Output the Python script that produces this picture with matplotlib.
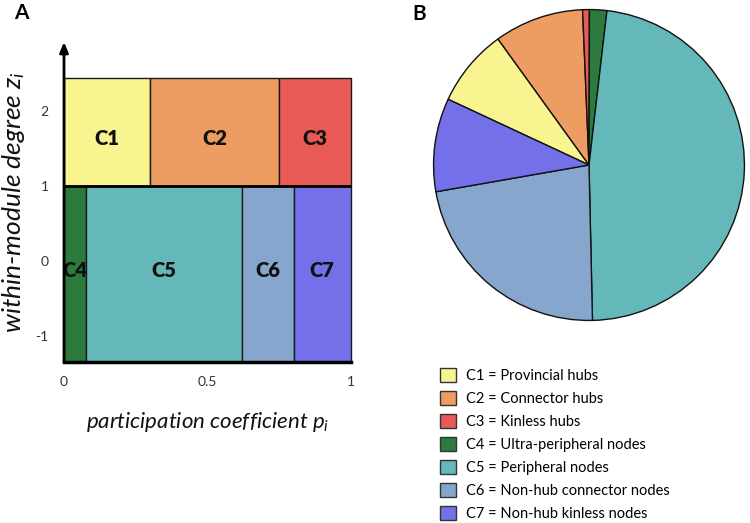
import matplotlib
matplotlib.use("Agg")
import matplotlib.pyplot as plt
from matplotlib.patches import Rectangle, Patch

plt.rcParams['font.family'] = ['Lato', 'DejaVu Sans']
plt.rcParams['mathtext.fontset'] = 'custom'
plt.rcParams['mathtext.it'] = 'Lato:italic'
plt.rcParams['mathtext.rm'] = 'Lato'

# ---- data ----
categories = ['C1', 'C2', 'C3', 'C4', 'C5', 'C6', 'C7']
descriptions = ['Provincial hubs', 'Connector hubs', 'Kinless hubs',
                'Ultra-peripheral nodes', 'Peripheral nodes',
                'Non-hub connector nodes', 'Non-hub kinless nodes']
colors = ['#F8F48F', '#EE9D62', '#E85A55', '#2D7A3E', '#64B8BA', '#86A6CD', '#7370EA']
# region bounds in (p, z) space
p_lo = [0.0, 0.30, 0.75, 0.0, 0.075, 0.62, 0.80]
p_hi = [0.30, 0.75, 1.0, 0.075, 0.62, 0.80, 1.0]
z_lo = [1.0, 1.0, 1.0, -1.34, -1.34, -1.34, -1.34]
z_hi = [2.44, 2.44, 2.44, 1.0, 1.0, 1.0, 1.0]
label_z = [1.64, 1.64, 1.64, -0.12, -0.12, -0.12, -0.12]
# pie shares (%)
shares = [8.1, 9.3, 0.7, 1.8, 47.8, 22.6, 9.7]
x_ticks = [0, 0.5, 1]
x_tick_labels = ['0', '0.5', '1']
y_ticks = [-1, 0, 1, 2]
y_tick_labels = ['-1', '0', '1', '2']

fig = plt.figure(figsize=(7.5, 5.23), dpi=100)

# ---- panel A ----
W, H = 750, 523
axA = fig.add_axes([64 / W, 1 - 362 / H, 287 / W, 320 / H])
axA.set_xlim(0, 1)
axA.set_ylim(-1.34, 2.92)
for i, c in enumerate(categories):
    axA.add_patch(Rectangle((p_lo[i], z_lo[i]), p_hi[i] - p_lo[i], z_hi[i] - z_lo[i],
                            facecolor=colors[i], edgecolor='#1a1a1a', linewidth=1.0,
                            zorder=1, clip_on=False))
    axA.text((p_lo[i] + p_hi[i]) / 2, label_z[i], c, ha='center', va='center',
             fontsize=14.5, fontweight='heavy', color='#111111', zorder=3)
# thick line at z = 1
axA.plot([0, 1], [1, 1], color='black', lw=2.0, zorder=2, solid_capstyle='butt',
         clip_on=False)
for s in ['top', 'right', 'left']:
    axA.spines[s].set_visible(False)
axA.spines['bottom'].set_linewidth(2.5)
axA.spines['bottom'].set_zorder(4)
axA.annotate('', xy=(0, 1.0), xycoords='axes fraction', xytext=(0, 0),
             textcoords='axes fraction',
             arrowprops=dict(arrowstyle='-|>,head_length=0.6,head_width=0.25', lw=2.0,
                             color='black', shrinkA=0, shrinkB=0), zorder=5)
axA.set_xticks(x_ticks)
axA.set_xticklabels(x_tick_labels)
axA.set_yticks(y_ticks)
axA.set_yticklabels(y_tick_labels)
axA.tick_params(length=0, labelsize=10, colors='#333333')
axA.tick_params(axis='x', pad=10)
axA.tick_params(axis='y', pad=11)
axA.set_xlabel(r'participation coefficient $p_i$', fontsize=16, style='italic',
               labelpad=16, color='#111111')
axA.set_ylabel(r'within-module degree $z_i$', fontsize=19, style='italic',
               labelpad=6, color='#111111')

fig.text(14 / W, 1 - 13 / H, 'A', fontsize=15, fontweight='bold', va='center', ha='left')
fig.text(412 / W, 1 - 14 / H, 'B', fontsize=15, fontweight='bold', va='center', ha='left')

# ---- panel B ----
axB = fig.add_axes([432 / W, 1 - 322 / H, 314 / W, 314 / H])
axB.pie(shares, colors=colors, startangle=155, counterclock=False,
        wedgeprops=dict(edgecolor='#111111', linewidth=1.0))
axB.set_xlim(-1.01, 1.01)
axB.set_ylim(-1.01, 1.01)
axB.set_aspect('equal')
axB.axis('off')

handles = [Patch(facecolor=colors[i], edgecolor='#333333', linewidth=1.0) for i in range(7)]
labels = [f'{categories[i]} = {descriptions[i]}' for i in range(7)]
fig.legend(handles, labels, loc='upper left', bbox_to_anchor=(440 / W, 1 - 368 / H),
           frameon=False, fontsize=10.5, handlelength=1.1, handleheight=1.1,
           labelspacing=0.55, handletextpad=0.7, borderpad=0, borderaxespad=0)

fig.savefig('out.png', dpi=100)
